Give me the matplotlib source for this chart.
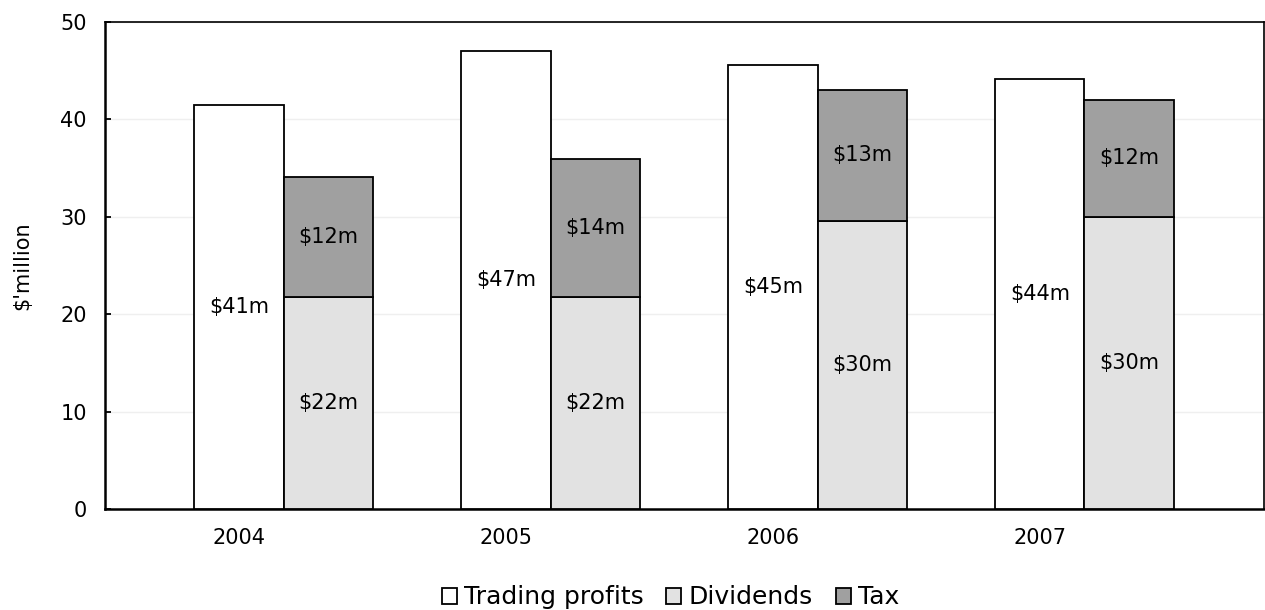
import matplotlib
matplotlib.use("Agg")
import matplotlib.pyplot as plt
import numpy as np

# chart data
years = ["2004", "2005", "2006", "2007"]
trading_profits = [41.5, 47.0, 45.6, 44.1]
dividends = [21.8, 21.8, 29.6, 30.0]
tax = [12.3, 14.1, 13.4, 12.0]
trading_labels = ["$41m", "$47m", "$45m", "$44m"]
dividend_labels = ["$22m", "$22m", "$30m", "$30m"]
tax_labels = ["$12m", "$14m", "$13m", "$12m"]

plt.rcParams['font.family'] = ['DejaVu Sans']

fig = plt.figure(figsize=(12.65, 6.1), dpi=100)
ax = fig.add_axes([0.083, 0.1656, 0.916, 0.7984])

x = np.arange(len(years))
w = 0.335

b1 = ax.bar(x, trading_profits, w, color="white", edgecolor="black",
            linewidth=1.3, label="Trading profits", zorder=3)
b2 = ax.bar(x + w, dividends, w, color="#e2e2e2", edgecolor="black",
            linewidth=1.3, label="Dividends", zorder=3)
b3 = ax.bar(x + w, tax, w, bottom=dividends, color="#a0a0a0", edgecolor="black",
            linewidth=1.3, label="Tax", zorder=3)

# value labels in the middle of each segment
for i in range(len(years)):
    ax.text(x[i], trading_profits[i] / 2, trading_labels[i],
            ha="center", va="center", fontsize=15, zorder=4)
    ax.text(x[i] + w, dividends[i] / 2, dividend_labels[i],
            ha="center", va="center", fontsize=15, zorder=4)
    ax.text(x[i] + w, dividends[i] + tax[i] / 2, tax_labels[i],
            ha="center", va="center", fontsize=15, zorder=4)

ax.set_xlim(-0.502, 3.839)
ax.set_ylim(0, 50)
ax.set_yticks([0, 10, 20, 30, 40, 50])
ax.set_xticks(x)
ax.set_xticklabels(years)
ax.tick_params(axis="x", length=0, labelsize=15, pad=14)
ax.tick_params(axis="y", direction="in", length=4.5, width=1.3, labelsize=15, pad=13)
ax.yaxis.grid(True, color="#efefef", linewidth=1, zorder=0)
ax.set_ylabel("$'million", fontsize=15, labelpad=20)

for side in ["left", "bottom"]:
    ax.spines[side].set_linewidth(1.8)
for side in ["top", "right"]:
    ax.spines[side].set_linewidth(1.2)

fig.legend(handles=[b1, b2, b3], loc="lower center", bbox_to_anchor=(0.53, -0.036),
           ncol=3, frameon=False, fontsize=18, handlelength=0.6, handleheight=0.6,
           handletextpad=0.3, columnspacing=0.9)

fig.savefig("out.png", dpi=100)
